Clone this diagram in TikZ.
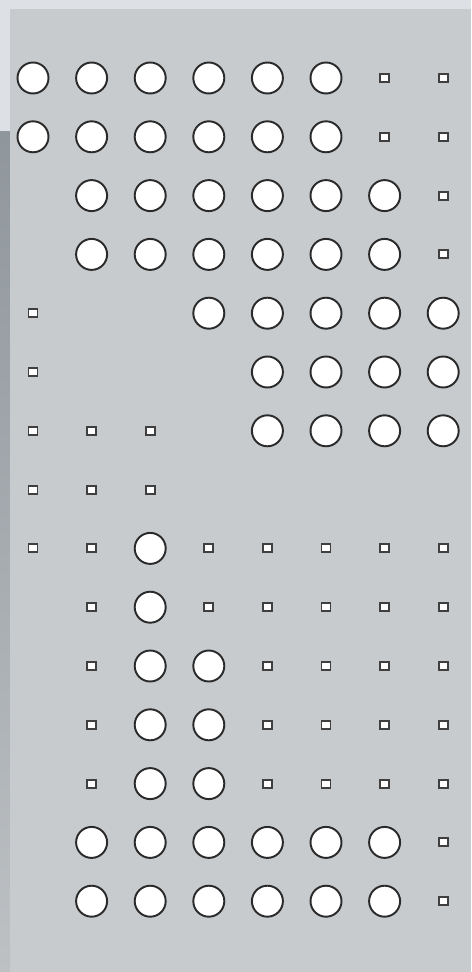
\documentclass[tikz,border=0pt]{standalone}
\usepackage{tikz}
\usetikzlibrary{positioning}
\definecolor{backdrop}{HTML}{DDE1E5}
\definecolor{panelgray}{HTML}{C7CBCE}
\definecolor{edgegray}{HTML}{8F969C}
\definecolor{rimgray}{HTML}{2A2A2A}
\tikzset{
  hole/.style={circle, draw=rimgray, fill=white, line width=1.1pt, minimum size=0.62cm, inner sep=0pt},
  pin/.style={rectangle, draw=rimgray!90, fill=white, line width=1.1pt, minimum width=0.18cm, minimum height=0.16cm, inner sep=0pt}
}

\begin{document}
\begin{tikzpicture}[x=0.02cm, y=-0.02cm]
\useasboundingbox (0,0) rectangle (471,972);
% backdrop and board
\fill[backdrop] (0,0) rectangle (471,972);
\shade[top color=edgegray, bottom color=panelgray!95!black] (0,132) rectangle (10,972);
\fill[panelgray] (10,9) rectangle (471,972);
% large holes
\foreach \r/\a/\b in {1/1/6, 2/1/6, 3/2/7, 4/2/7, 5/4/8, 6/5/8, 7/5/8, 9/3/3, 10/3/3,
                      11/3/4, 12/3/4, 13/3/4, 14/2/7, 15/2/7}
  \foreach \c in {\a,...,\b}
    \node[hole] (c\r-\c) at ({33+58.6*(\c-1)}, {78+58.8*(\r-1)}) {};
% small pins
\foreach \r/\a/\b in {1/7/8, 2/7/8, 3/8/8, 4/8/8, 5/1/1, 6/1/1, 7/1/3, 8/1/3, 9/1/2, 9/4/8,
                      10/2/2, 10/4/8, 11/2/2, 11/5/8, 12/2/2, 12/5/8, 13/2/2, 13/5/8, 14/8/8, 15/8/8}
  \foreach \c in {\a,...,\b}
    \node[pin] (s\r-\c) at ({33+58.6*(\c-1)}, {78+58.8*(\r-1)}) {};
\end{tikzpicture}
\end{document}
